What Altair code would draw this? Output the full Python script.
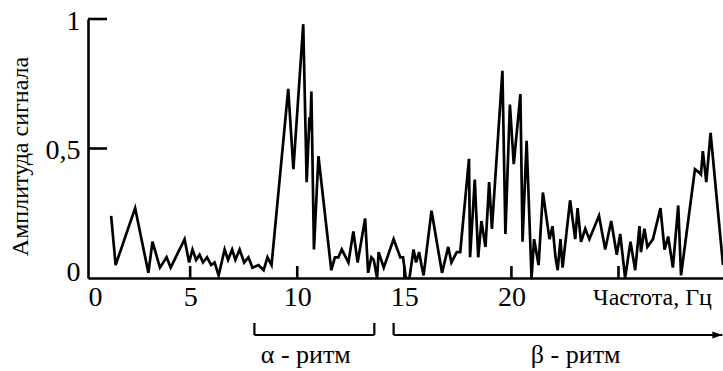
import altair as alt
import pandas as pd

# Spectrum values (frequency in Hz, amplitude 0..1)
freq = [1.31, 1.52, 2.43, 3.05, 3.24, 3.59, 3.90, 4.09, 4.74, 4.95,
        5.11, 5.28, 5.44, 5.60, 5.79, 5.98, 6.14, 6.33, 6.61, 6.77,
        6.96, 7.11, 7.31, 7.52, 7.72, 7.91, 8.19, 8.43, 8.61, 8.80,
        9.58, 9.82, 10.28, 10.44, 10.57, 10.61, 10.66, 10.78, 10.99, 11.59,
        11.76, 11.92, 12.08, 12.39, 12.62, 12.82, 13.17, 13.31, 13.46, 13.57,
        13.73, 13.80, 14.04, 14.50, 14.81, 14.94, 15.07, 15.24, 15.43, 15.55,
        15.69, 15.80, 15.90, 16.27, 16.76, 17.05, 17.20, 17.45, 17.61, 18.02,
        18.07, 18.29, 18.45, 18.60, 18.79, 18.96, 19.09, 19.58, 19.72, 19.93,
        20.11, 20.42, 20.52, 20.71, 20.94, 21.06, 21.27, 21.47, 21.78, 21.92,
        22.06, 22.16, 22.29, 22.39, 22.74, 22.98, 23.09, 23.25, 23.45, 23.64,
        24.09, 24.38, 24.66, 24.92, 25.08, 25.31, 25.56, 25.78, 25.98, 26.05,
        26.21, 26.35, 26.61, 26.96, 27.15, 27.32, 27.54, 27.79, 27.92, 28.57,
        28.73, 28.85, 28.94, 29.10, 29.30, 29.88]
amp = [0.24, 0.05, 0.27, 0.02, 0.14, 0.04, 0.08, 0.04, 0.15, 0.06,
       0.11, 0.07, 0.09, 0.06, 0.08, 0.05, 0.06, 0.01, 0.11, 0.07,
       0.11, 0.07, 0.11, 0.06, 0.08, 0.04, 0.05, 0.03, 0.08, 0.05,
       0.73, 0.42, 0.98, 0.37, 0.62, 0.57, 0.72, 0.11, 0.47, 0.03,
       0.08, 0.08, 0.11, 0.06, 0.18, 0.06, 0.23, 0.02, 0.08, 0.07,
       0.00, 0.10, 0.04, 0.15, 0.08, 0.08, 0.00, 0.00, 0.11, 0.06,
       0.10, 0.05, 0.01, 0.26, 0.02, 0.12, 0.06, 0.10, 0.10, 0.46,
       0.08, 0.38, 0.08, 0.22, 0.12, 0.37, 0.19, 0.80, 0.17, 0.67,
       0.44, 0.71, 0.14, 0.53, 0.00, 0.15, 0.05, 0.33, 0.15, 0.20,
       0.08, 0.03, 0.15, 0.04, 0.30, 0.15, 0.27, 0.14, 0.19, 0.15,
       0.24, 0.11, 0.22, 0.09, 0.17, 0.00, 0.14, 0.03, 0.20, 0.10,
       0.19, 0.12, 0.15, 0.27, 0.11, 0.16, 0.04, 0.28, 0.01, 0.42,
       0.41, 0.40, 0.49, 0.37, 0.56, 0.05]

# first label sits at the axis corner and reads "0"
x_label_values = [0.23, 5, 10, 15, 20]
x_tick_values = [5, 10, 15, 20, 25]
y_label_values = [0, 0.5, 1]
y_tick_values = [0.5, 1]

alpha_range = [8.0, 13.6]
beta_range = [14.5, 29.85]
rhythm_labels = ["α - ритм", "β - ритм"]
rhythm_label_x = [10.4, 23.0]

FONT = "Times New Roman, Liberation Serif, DejaVu Serif, serif"
xs = alt.Scale(domain=[0.23, 29.88], nice=False, zero=False)
ys = alt.Scale(domain=[0, 1], nice=False, zero=False)

x_axis = alt.Axis(
    values=x_label_values, format="d", ticks=False, grid=False,
    domainColor="black", domainWidth=2.6, labelOverlap=False, labelBound=False,
    labelFont=FONT, labelFontSize=28, labelColor="black", labelPadding=5,
    labelExpr="datum.value < 1 ? '0' : datum.label",
    labelAlign={"condition": {"test": "datum.value < 1", "value": "left"}, "value": "center"},
    title="Частота, Гц", titleFont=FONT, titleFontSize=24, titleFontWeight="normal",
    titleColor="black", titleX=564, titleY=19, titleAlign="center", titleBaseline="middle")

y_axis = alt.Axis(
    values=y_label_values, ticks=False, grid=False,
    domainColor="black", domainWidth=2.6, labelOverlap=False,
    labelFont=FONT, labelFontSize=28, labelColor="black", labelPadding=8,
    labelExpr="datum.value == 0.5 ? '0,5' : (datum.value == 1 ? '1' : '0')",
    labelBaseline={"condition": {"test": "datum.value == 0", "value": "alphabetic"}, "value": "middle"},
    labelOffset=2,
    title="Амплитуда сигнала", titleFont=FONT, titleFontSize=24, titleFontWeight="normal",
    titleColor="black", titleX=-68, titleY=137, titleAngle=270,
    titleAlign="center", titleBaseline="middle")

X = lambda field: alt.X(field, type="quantitative", scale=xs, axis=x_axis)
Y = lambda field: alt.Y(field, type="quantitative", scale=ys, axis=y_axis)

df = pd.DataFrame({"f": freq, "a": amp})

line = alt.Chart(df).mark_line(color="black", strokeWidth=2.7, clip=True).encode(
    x=X("f"), y=Y("a"))

xticks = alt.Chart(pd.DataFrame({"f": x_tick_values})).mark_rule(color="black", strokeWidth=2.6).encode(
    x=X("f"), y=alt.value(259), y2=alt.value(247))

yticks = alt.Chart(pd.DataFrame({"a": y_tick_values})).mark_rule(color="black", strokeWidth=2.6).encode(
    y=Y("a"), x=alt.value(0), x2=alt.value(19))

spans = pd.DataFrame({"f": [alpha_range[0], beta_range[0]], "f2": [alpha_range[1], beta_range[1]]})
hbars = alt.Chart(spans).mark_rule(color="black", strokeWidth=2.2).encode(
    x=X("f"), x2="f2:Q", y=alt.value(316))

ends = pd.DataFrame({"f": [alpha_range[0], alpha_range[1], beta_range[0]]})
vends = alt.Chart(ends).mark_rule(color="black", strokeWidth=2.2).encode(
    x=X("f"), y=alt.value(304), y2=alt.value(316))

arrow = alt.Chart(pd.DataFrame({"f": [beta_range[1]]})).mark_point(
    shape="M0,0L-2,-0.7L-2,0.7Z", filled=True, size=100, color="black", opacity=1).encode(
    x=X("f"), y=alt.value(316))

labels = alt.Chart(pd.DataFrame({"f": rhythm_label_x, "label": rhythm_labels})).mark_text(
    font=FONT, fontSize=26, baseline="middle", align="center", color="black").encode(
    x=X("f"), y=alt.value(336), text="label:N")

chart = alt.layer(line, xticks, yticks, hbars, vends, arrow, labels).properties(
    width=635, height=259,
    padding={"left": 88, "top": 19, "right": 0, "bottom": 93},
    autosize=alt.AutoSizeParams(type="none"),
    background="white",
).configure_view(stroke=None)

chart.save("out.html", embed_options={"renderer": "svg", "actions": False})
